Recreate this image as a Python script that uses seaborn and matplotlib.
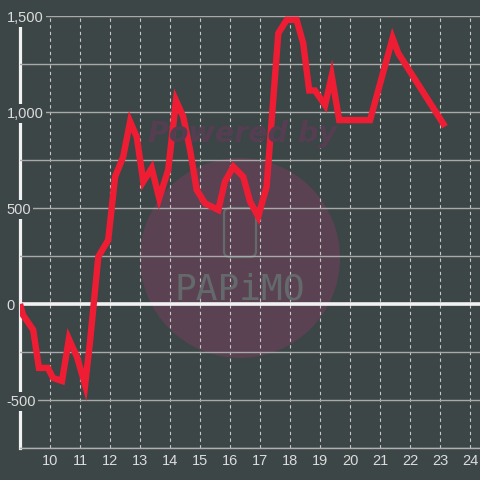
import numpy as np
import pandas as pd
import seaborn as sns
import matplotlib.pyplot as plt
from matplotlib.patches import Circle, FancyBboxPatch
from matplotlib.ticker import FuncFormatter

# data
hours = [9.0, 9.1, 9.44, 9.63, 9.93, 10.1, 10.4, 10.63, 10.9, 11.17, 11.33,
         11.61, 11.94, 12.17, 12.44, 12.67, 12.89, 13.11, 13.39, 13.64, 13.94,
         14.2, 14.44, 14.67, 14.89, 15.17, 15.61, 15.83, 16.11, 16.44, 16.67,
         16.94, 17.22, 17.61, 17.89, 18.22, 18.44, 18.64, 18.83, 19.17, 19.39,
         19.64, 20.67, 21.42, 21.61, 23.17]
values = [0, -57, -135, -333, -333, -385, -401, -182, -276, -422, -203,
          246, 333, 663, 767, 950, 871, 637, 707, 551, 698,
          1060, 976, 802, 594, 524, 490, 637, 715, 663, 533,
          455, 611, 1410, 1480, 1480, 1358, 1112, 1112, 1036, 1188,
          958, 958, 1385, 1306, 924]
x_ticks = list(range(10, 25))
y_ticks = [-500, 0, 500, 1000, 1500]
y_grid = [-750, -250, 250, 750, 1250]

bg = "#3c4646"
red = "#ee1d34"
txt = "#dcdcdc"

plt.rcParams["font.family"] = ["Liberation Sans", "DejaVu Sans"]

df = pd.DataFrame({"hour": hours, "value": values})

fig = plt.figure(figsize=(4.8, 4.8), dpi=100, facecolor=bg)
ax = fig.add_axes([20 / 480, 32 / 480, 460 / 480, 432 / 480], facecolor=bg)
ax.set_axisbelow(True)

# watermark
ax.add_patch(Circle((0.5, 1 - 258 / 480), 100 / 480, transform=fig.transFigure,
                    facecolor="#5a4253", edgecolor="none", zorder=0.3))
ax.add_patch(FancyBboxPatch((224 / 480, 1 - 257 / 480), 32 / 480, 49 / 480,
                            boxstyle="round,pad=0,rounding_size=0.012",
                            transform=fig.transFigure, facecolor="none",
                            edgecolor="#646a6b", linewidth=1.6, zorder=0.35))
fig.text(242 / 480, 1 - 134 / 480, "Powered by", fontsize=20.5, fontweight="bold",
         fontstyle="italic", family=["DejaVu Sans"], color="#553e52",
         ha="center", va="center", zorder=1.5)
fig.text(240 / 480, 1 - 289 / 480, "PAPiMO", fontsize=26, fontweight="light",
         family=["DejaVu Sans Mono"], color="#646a6b", ha="center", va="center",
         zorder=0.4)

ax.axhline(0, color="#f2f2f2", linewidth=2.6, zorder=1)

sns.lineplot(data=df, x="hour", y="value", sort=False, estimator=None,
             color=red, linewidth=4.6, ax=ax, zorder=2,
             solid_joinstyle="miter", solid_capstyle="butt")

ax.set_xlim(9, 9 + 460 / 30)
ax.set_ylim(-750, 1500)
ax.set_xticks(x_ticks)
ax.set_yticks(y_ticks)
ax.set_yticks(y_grid, minor=True)
ax.yaxis.set_major_formatter(FuncFormatter(lambda v, p: f"{int(v):,}"))
ax.set_xlabel("")
ax.set_ylabel("")

ax.grid(axis="y", which="both", color="#a9a9a9", linewidth=1.0, linestyle="-")
ax.grid(axis="x", which="major", color="#c8c8c8", linewidth=0.8,
        linestyle=(0, (3, 3)))

ax.tick_params(axis="x", length=0, pad=4, labelsize=10.5, colors=txt)
ax.tick_params(axis="y", which="both", length=0, pad=9.5, labelsize=10.5,
               colors=txt)
for lbl in ax.get_yticklabels():
    lbl.set_horizontalalignment("left")
    lbl.set_bbox(dict(facecolor=bg, edgecolor="none", pad=1.5))

for s in ["top", "right"]:
    ax.spines[s].set_visible(False)
ax.spines["left"].set_color("#f2f2f2")
ax.spines["left"].set_linewidth(2.3)
ax.spines["left"].set_zorder(0.4)
ax.spines["bottom"].set_color("#b0b0b0")
ax.spines["bottom"].set_linewidth(1.0)

fig.savefig("out.png", dpi=100, facecolor=bg)
